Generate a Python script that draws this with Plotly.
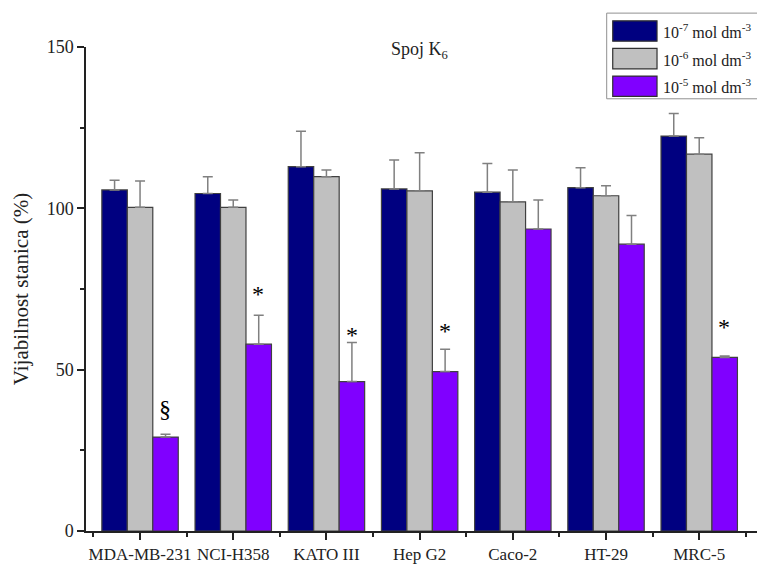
import plotly.graph_objects as go

categories = ["MDA-MB-231", "NCI-H358", "KATO III", "Hep G2", "Caco-2", "HT-29", "MRC-5"]
series_names = ["10<sup>-7</sup> mol dm<sup>-3</sup>", "10<sup>-6</sup> mol dm<sup>-3</sup>", "10<sup>-5</sup> mol dm<sup>-3</sup>"]
vals_1e7 = [105.7, 104.6, 112.9, 106.0, 105.0, 106.4, 122.4]
err_1e7 = [3.0, 5.2, 11.0, 9.0, 8.9, 6.2, 7.0]
vals_1e6 = [100.3, 100.3, 109.8, 105.4, 102.0, 103.9, 116.8]
err_1e6 = [8.2, 2.3, 2.1, 11.8, 9.9, 3.1, 5.1]
vals_1e5 = [29.1, 57.9, 46.3, 49.4, 93.6, 88.9, 53.8]
err_1e5 = [0.9, 9.0, 12.1, 6.9, 9.0, 8.9, 0.4]
signif = ["§", "*", "*", "*", "", "", "*"]
signif_level = [37.5, 74.2, 61.4, 62.6, None, None, 63.8]  # heights (%) of the marks
colors = ["#000080", "#c0c0c0", "#8000ff"]
title_text = "Spoj K<sub>6</sub>"
y_title = "Vijabilnost stanica (%)"

FONT = "Liberation Serif"
INK = "#222"
x = list(range(len(categories)))

fig = go.Figure()
for name, vals, errs, col in zip(series_names, [vals_1e7, vals_1e6, vals_1e5],
                                 [err_1e7, err_1e6, err_1e5], colors):
    fig.add_trace(go.Bar(
        x=x, y=vals, name=name, showlegend=False,
        marker=dict(color=col, line=dict(color="#404040", width=1.2)),
        error_y=dict(type="data", array=errs, arrayminus=[0]*len(errs), symmetric=False,
                     color="#808080", thickness=1.5, width=5),
    ))

# significance marks above the 10^-5 bars
for i, (s, lvl) in enumerate(zip(signif, signif_level)):
    if not s:
        continue
    fig.add_annotation(
        x=i + 0.27, y=lvl, xref="x", yref="y", text=s, showarrow=False,
        yanchor="bottom", yshift=-17 if s == "*" else -14,
        font=dict(family=FONT, size=24, color="#000"),
    )

# title inside the plot
fig.add_annotation(x=0.497, y=0.993, xref="paper", yref="paper", text=title_text,
                   showarrow=False, yanchor="middle",
                   font=dict(family=FONT, size=18, color=INK))

# custom legend (large swatches)
lx0, lx1 = 0.776, 1.004
fig.add_shape(type="rect", xref="paper", yref="paper", x0=lx0, x1=lx1, y0=0.893, y1=1.070,
              line=dict(color="#909090", width=1), fillcolor="white")
for k, (name, col) in enumerate(zip(series_names, colors)):
    yc = 1.033 - k * 0.057
    fig.add_shape(type="rect", xref="paper", yref="paper",
                  x0=0.785, x1=0.851, y0=yc - 0.021, y1=yc + 0.021,
                  line=dict(color="#303030", width=1.2), fillcolor=col)
    fig.add_annotation(x=0.857, y=yc, xref="paper", yref="paper", text=name,
                       showarrow=False, xanchor="left", yanchor="middle",
                       font=dict(family=FONT, size=16, color=INK))

fig.update_layout(
    width=757, height=557,
    margin=dict(l=78, r=8, t=39, b=34),
    paper_bgcolor="white", plot_bgcolor="white",
    barmode="group", bargap=0.18, bargroupgap=0,
    font=dict(family=FONT, size=18, color=INK),
)
fig.update_xaxes(
    range=[-0.58, 6.62], tickvals=x, ticktext=categories, tickangle=0,
    showline=True, linecolor=INK, linewidth=1.5, showgrid=False, zeroline=False,
    ticks="outside", ticklen=7, tickwidth=1.5, tickcolor=INK,
    tickfont=dict(family=FONT, size=17, color=INK), automargin=False,
    minor=dict(tick0=0.5, dtick=1, ticks="outside", ticklen=4, tickwidth=1.5, tickcolor=INK),
)
fig.update_yaxes(
    range=[0, 150], tickvals=[0, 50, 100, 150],
    showline=True, linecolor=INK, linewidth=1.5, showgrid=False, zeroline=False,
    ticks="outside", ticklen=7, tickwidth=1.5, tickcolor=INK,
    tickfont=dict(family=FONT, size=18, color=INK),
    minor=dict(tick0=0, dtick=25, ticks="outside", ticklen=4, tickwidth=1.5, tickcolor=INK),
    title=dict(text=y_title, font=dict(family=FONT, size=21, color=INK), standoff=12),
)

fig.write_html("out.html")
